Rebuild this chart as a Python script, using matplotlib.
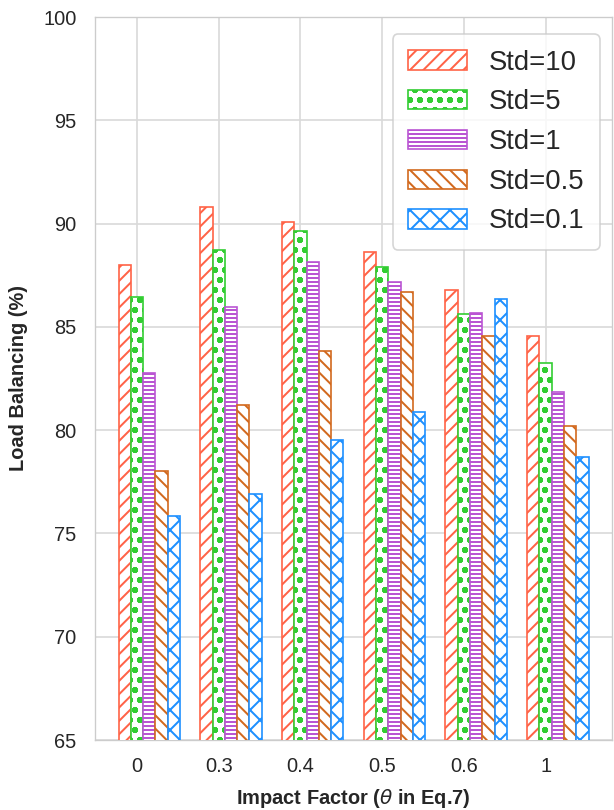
import numpy as np
import matplotlib
matplotlib.use("Agg")
import matplotlib.pyplot as plt
import seaborn as sns

sns.set_style("whitegrid")
plt.rcParams['font.family'] = ['Liberation Sans', 'DejaVu Sans']
plt.rcParams['hatch.linewidth'] = 1.2

categories = ['0', '0.3', '0.4', '0.5', '0.6', '1']
series_names = ['Std=10', 'Std=5', 'Std=1', 'Std=0.5', 'Std=0.1']
std10 = [88.0, 90.8, 90.1, 88.6, 86.8, 84.55]
std5 = [86.45, 88.7, 89.65, 87.9, 85.62, 83.27]
std1 = [82.75, 85.95, 88.15, 87.15, 85.65, 81.85]
std05 = [78.0, 81.2, 83.85, 86.7, 84.58, 80.2]
std01 = [75.85, 76.93, 79.5, 80.9, 86.37, 78.7]
values = [std10, std5, std1, std05, std01]

colors = ['#ff6347', '#32cd32', '#ba55d3', '#d2691e', '#1e90ff']
hatches = ['///', 'oo..', '-----', '\\\\\\', 'xx']

W, H, DPI = 614, 810, 120
fig = plt.figure(figsize=(W / DPI, H / DPI), dpi=DPI)
ax = fig.add_axes([95 / W, 1 - 740 / H, (612 - 95) / W, (740 - 17) / H])

width = 0.15
x = np.arange(len(categories))
for i, (name, vals) in enumerate(zip(series_names, values)):
    ax.bar(x + i * width, vals, width, label=name, facecolor='white',
           edgecolor=colors[i], hatch=hatches[i], linewidth=1.0, zorder=3)

ax.set_ylim(65, 100)
ax.set_yticks(np.arange(65, 101, 5))
ax.set_xticks(x + width)
ax.set_xticklabels(categories)
ax.tick_params(axis='both', labelsize=12, colors='.15', length=0)
ax.tick_params(axis='x', pad=10)
ax.tick_params(axis='y', pad=11)
ax.set_ylabel('Load Balancing (%)', fontsize=12, fontweight='bold', color='.15', labelpad=9)
ax.set_xlabel(r'Impact Factor ($\theta$ in Eq.7)', fontsize=12, fontweight='bold', color='.15', labelpad=7)
ax.grid(True, color='.85', linewidth=1.0, zorder=0)
ax.set_axisbelow(True)
for s in ax.spines.values():
    s.set_color('.8')

leg = ax.legend(loc='upper right', fontsize=16.5, frameon=True,
                bbox_to_anchor=(1.0, 1 - 5 / 723), borderaxespad=0.45,
                handlelength=2.15, borderpad=0.55)
leg.get_frame().set_edgecolor('.8')
for t in leg.get_texts():
    t.set_color('.15')

fig.savefig('out.png', dpi=DPI)
